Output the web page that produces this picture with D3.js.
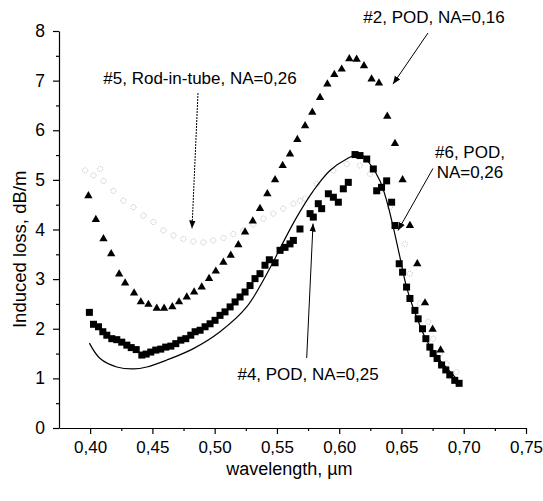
<!DOCTYPE html>
<html>
<head>
<meta charset="utf-8">
<script src="https://cdn.jsdelivr.net/npm/d3@7"></script>
<style>
  body { margin: 0; background: #fff; }
  svg text { font-family: "Liberation Sans", Arial, sans-serif; fill: #000; }
</style>
</head>
<body>
<div id="chart"></div>
<script>
// #2, POD, NA=0,16 (triangles)
let wl2 = [0.3986, 0.4046, 0.4107, 0.4169, 0.4233, 0.4281, 0.4353, 0.4407, 0.4468, 0.4535,
           0.4594, 0.466, 0.4714, 0.4776, 0.4835, 0.4896, 0.4955, 0.5009, 0.507, 0.5129,
           0.519, 0.5244, 0.5306, 0.5364, 0.5423, 0.5485, 0.5546, 0.5605, 0.5664, 0.5726,
           0.5784, 0.5846, 0.5905, 0.5961, 0.602, 0.6081, 0.614, 0.6199, 0.626, 0.6319,
           0.6386, 0.6448, 0.6509, 0.6568, 0.6627, 0.6689, 0.675, 0.6814];
let loss2 = [4.68, 4.20, 3.81, 3.51, 3.10, 2.92, 2.72, 2.54, 2.49, 2.41,
             2.41, 2.44, 2.54, 2.64, 2.74, 2.84, 3.01, 3.16, 3.34, 3.48,
             3.69, 3.95, 4.17, 4.42, 4.72, 5.00, 5.29, 5.52, 5.81, 6.09,
             6.36, 6.66, 6.93, 7.12, 7.23, 7.44, 7.43, 7.30, 7.03, 6.95,
             6.28, 5.73, 5.00, 4.08, 3.31, 2.52, 1.99, 1.57];

// #4, POD, NA=0,25 (squares)
let wl4 = [0.3994, 0.4027, 0.4067, 0.4102, 0.4134, 0.4174, 0.4214, 0.4254, 0.4295, 0.433,
           0.437, 0.4415, 0.445, 0.4487, 0.4527, 0.4567, 0.4607, 0.4648, 0.4688, 0.4728,
           0.4768, 0.4808, 0.4843, 0.4883, 0.4923, 0.4963, 0.5003, 0.5043, 0.5083, 0.5124,
           0.5164, 0.5204, 0.5244, 0.5284, 0.5324, 0.5364, 0.5404, 0.5439, 0.5485, 0.5525,
           0.5565, 0.5605, 0.5632, 0.5685, 0.5766, 0.5792, 0.5832, 0.5859, 0.5913, 0.5953,
           0.5993, 0.6033, 0.6073, 0.6127, 0.6167, 0.6221, 0.6274, 0.6301, 0.634, 0.6381,
           0.6421, 0.6448, 0.6482, 0.6509, 0.6541, 0.6568, 0.6608, 0.6634, 0.6669, 0.6696,
           0.6728, 0.6754, 0.6786, 0.6822, 0.6856, 0.6888, 0.6928, 0.6963];
let loss4 = [2.33, 2.09, 2.04, 1.94, 1.87, 1.80, 1.78, 1.73, 1.67, 1.62,
             1.58, 1.47, 1.49, 1.53, 1.57, 1.59, 1.63, 1.65, 1.70, 1.77,
             1.80, 1.87, 1.94, 1.97, 2.04, 2.10, 2.17, 2.27, 2.34, 2.44,
             2.54, 2.64, 2.74, 2.87, 3.01, 3.11, 3.28, 3.39, 3.33, 3.58,
             3.64, 3.71, 3.78, 4.01, 4.32, 4.25, 4.52, 4.42, 4.72, 4.65,
             4.55, 4.82, 4.95, 5.51, 5.49, 5.42, 5.22, 4.78, 4.85, 4.98,
             4.55, 4.08, 3.31, 3.14, 2.84, 2.61, 2.37, 2.20, 2.00, 1.80,
             1.63, 1.50, 1.40, 1.27, 1.17, 1.07, 0.96, 0.90];

// #5, Rod-in-tube, NA=0,26 (grey dotted circles)
let wl5 = [0.396, 0.4027, 0.408, 0.4107, 0.4187, 0.4267, 0.4348, 0.4428, 0.4508, 0.4588,
           0.4669, 0.4749, 0.4829, 0.4909, 0.4989, 0.507, 0.515, 0.523, 0.5311, 0.5391,
           0.5471, 0.5551, 0.5632, 0.5685, 0.5726, 0.582, 0.5953, 0.606, 0.6167, 0.6247,
           0.6327, 0.6408, 0.6488, 0.6528, 0.6568, 0.6648, 0.6715, 0.6755, 0.6808, 0.6862,
           0.6942];
let loss5 = [5.19, 5.09, 5.22, 4.98, 4.78, 4.58, 4.45, 4.28, 4.15, 3.98,
             3.88, 3.81, 3.76, 3.74, 3.78, 3.83, 3.91, 3.98, 4.10, 4.22,
             4.32, 4.42, 4.52, 4.58, 4.62, 4.92, 5.19, 5.32, 5.29, 5.12,
             4.78, 4.45, 4.11, 3.71, 3.11, 2.51, 2.14, 1.80, 1.50, 1.30,
             1.13];

// #6, POD, NA=0,26 (solid line)
let wl6 = [0.3994, 0.408, 0.4214, 0.4348, 0.4455, 0.4616, 0.4829, 0.5043, 0.5257, 0.5471,
           0.5525, 0.5659, 0.5792, 0.5926, 0.606, 0.6167, 0.6247, 0.6327, 0.6381, 0.6434,
           0.6488, 0.6541, 0.6621, 0.6701, 0.6808, 0.6915, 0.6969];
let loss6 = [1.71, 1.40, 1.23, 1.19, 1.23, 1.37, 1.60, 1.94, 2.44, 3.35,
             3.62, 4.25, 4.78, 5.19, 5.42, 5.52, 5.32, 4.98, 4.58, 4.05,
             3.44, 2.84, 2.24, 1.77, 1.37, 1.07, 0.90];

let xTicks = [0.40, 0.45, 0.50, 0.55, 0.60, 0.65, 0.70, 0.75];
let xMinor = [0.425, 0.475, 0.525, 0.575, 0.625, 0.675, 0.725];
let yTicks = [0, 1, 2, 3, 4, 5, 6, 7, 8];
let yMinor = [0.5, 1.5, 2.5, 3.5, 4.5, 5.5, 6.5, 7.5];

let width = 543, height = 501;

let svg = d3.select("#chart")
  .append("svg")
    .attr("width", width)
    .attr("height", height);

let x = d3.scaleLinear()
    .domain([0.375, 0.75])
    .range([59, 526]);

let y = d3.scaleLinear()
    .domain([0, 8])
    .range([428, 31]);

let comma = d => d3.format(".2f")(d).replace(".", ",");

// arrow head
svg.append("defs").append("marker")
    .attr("id", "arrow")
    .attr("viewBox", "0 0 10 10")
    .attr("refX", 10).attr("refY", 5)
    .attr("markerWidth", 8).attr("markerHeight", 8)
    .attr("markerUnits", "userSpaceOnUse")
    .attr("orient", "auto")
  .append("path")
    .attr("d", "M0,1 L10,5 L0,9 Z")
    .attr("fill", "#000");

// x axis
let xAxis = svg.append("g")
    .attr("transform", "translate(0," + y(0) + ")")
    .call(d3.axisBottom(x).tickValues(xTicks).tickFormat(comma).tickSize(6).tickSizeOuter(0).tickPadding(7));
xAxis.selectAll("text").attr("font-size", "17px");
svg.append("g")
    .attr("transform", "translate(0," + y(0) + ")")
    .call(d3.axisBottom(x).tickValues(xMinor).tickFormat("").tickSize(3).tickSizeOuter(0))
    .select(".domain").remove();

// y axis
let yAxis = svg.append("g")
    .attr("transform", "translate(" + x(0.375) + ",0)")
    .call(d3.axisLeft(y).tickValues(yTicks).tickSize(6).tickSizeOuter(0).tickPadding(8));
yAxis.selectAll("text").attr("font-size", "17.5px");
svg.append("g")
    .attr("transform", "translate(" + x(0.375) + ",0)")
    .call(d3.axisLeft(y).tickValues(yMinor).tickFormat("").tickSize(3).tickSizeOuter(0))
    .select(".domain").remove();

svg.selectAll(".domain, .tick line").attr("stroke", "#000").attr("stroke-width", 1.2);
svg.selectAll(".tick text").attr("font-family", "Liberation Sans, Arial, sans-serif");

// axis titles
svg.append("text")
    .attr("x", x(0.56)).attr("y", 475)
    .attr("text-anchor", "middle")
    .attr("font-size", "18px")
    .text("wavelength, \u00b5m");

svg.append("text")
    .attr("transform", "translate(26," + y(3.6) + ") rotate(-90)")
    .attr("text-anchor", "middle")
    .attr("font-size", "18.5px")
    .text("Induced loss, dB/m");

// #5 grey dotted circles
svg.append("g").selectAll("circle")
    .data(wl5)
    .enter()
    .append("circle")
    .attr("cx", d => x(d))
    .attr("cy", (d, i) => y(loss5[i]))
    .attr("r", 2.6)
    .attr("fill", "none")
    .attr("stroke", "#bdbdbd")
    .attr("stroke-width", 1)
    .attr("stroke-dasharray", "1,1");

// #6 solid line
let line = d3.line()
    .x(d => x(d[0]))
    .y(d => y(d[1]))
    .curve(d3.curveCatmullRom);
svg.append("path")
    .datum(wl6.map((d, i) => [d, loss6[i]]))
    .attr("d", line)
    .attr("fill", "none")
    .attr("stroke", "#000")
    .attr("stroke-width", 1.2);

// #4 squares
svg.append("g").selectAll("rect")
    .data(wl4)
    .enter()
    .append("rect")
    .attr("x", d => x(d) - 3.5)
    .attr("y", (d, i) => y(loss4[i]) - 3.5)
    .attr("width", 7)
    .attr("height", 7)
    .attr("fill", "#000");

// #2 triangles
svg.append("g").selectAll("path")
    .data(wl2)
    .enter()
    .append("path")
    .attr("transform", (d, i) => "translate(" + x(d) + "," + y(loss2[i]) + ")")
    .attr("d", d3.symbol().type(d3.symbolTriangle).size(30))
    .attr("fill", "#000");

// annotations
let labels = [
  {lines: ["#5, Rod-in-tube, NA=0,26"], wl: 0.4882, loss: 6.93, from: [0.4866, 6.75], to: [0.4818, 4.02], dash: "2,1"},
  {lines: ["#2, POD, NA=0,16"], wl: 0.6761, loss: 8.16, from: [0.6713, 7.96], to: [0.6432, 6.93]},
  {lines: ["#6, POD,", "NA=0,26"], wl: 0.705, loss: 5.45, from: [0.6753, 5.23], to: [0.6472, 3.98]},
  {lines: ["#4, POD, NA=0,25"], wl: 0.575, loss: 0.965, from: [0.5739, 1.41], to: [0.5790, 4.12]}
];

labels.forEach(function(a) {
  let t = svg.append("text")
      .attr("x", x(a.wl)).attr("y", y(a.loss))
      .attr("text-anchor", "middle")
      .attr("font-size", "17px");
  a.lines.forEach(function(s, i) {
    t.append("tspan")
      .attr("x", x(a.wl))
      .attr("dy", i == 0 ? 0 : 20)
      .text(s);
  });
  svg.append("line")
      .attr("x1", x(a.from[0])).attr("y1", y(a.from[1]))
      .attr("x2", x(a.to[0])).attr("y2", y(a.to[1]))
      .attr("stroke", "#000")
      .attr("stroke-width", 1)
      .attr("stroke-dasharray", a.dash || null)
      .attr("marker-end", "url(#arrow)");
});
</script>
</body>
</html>
